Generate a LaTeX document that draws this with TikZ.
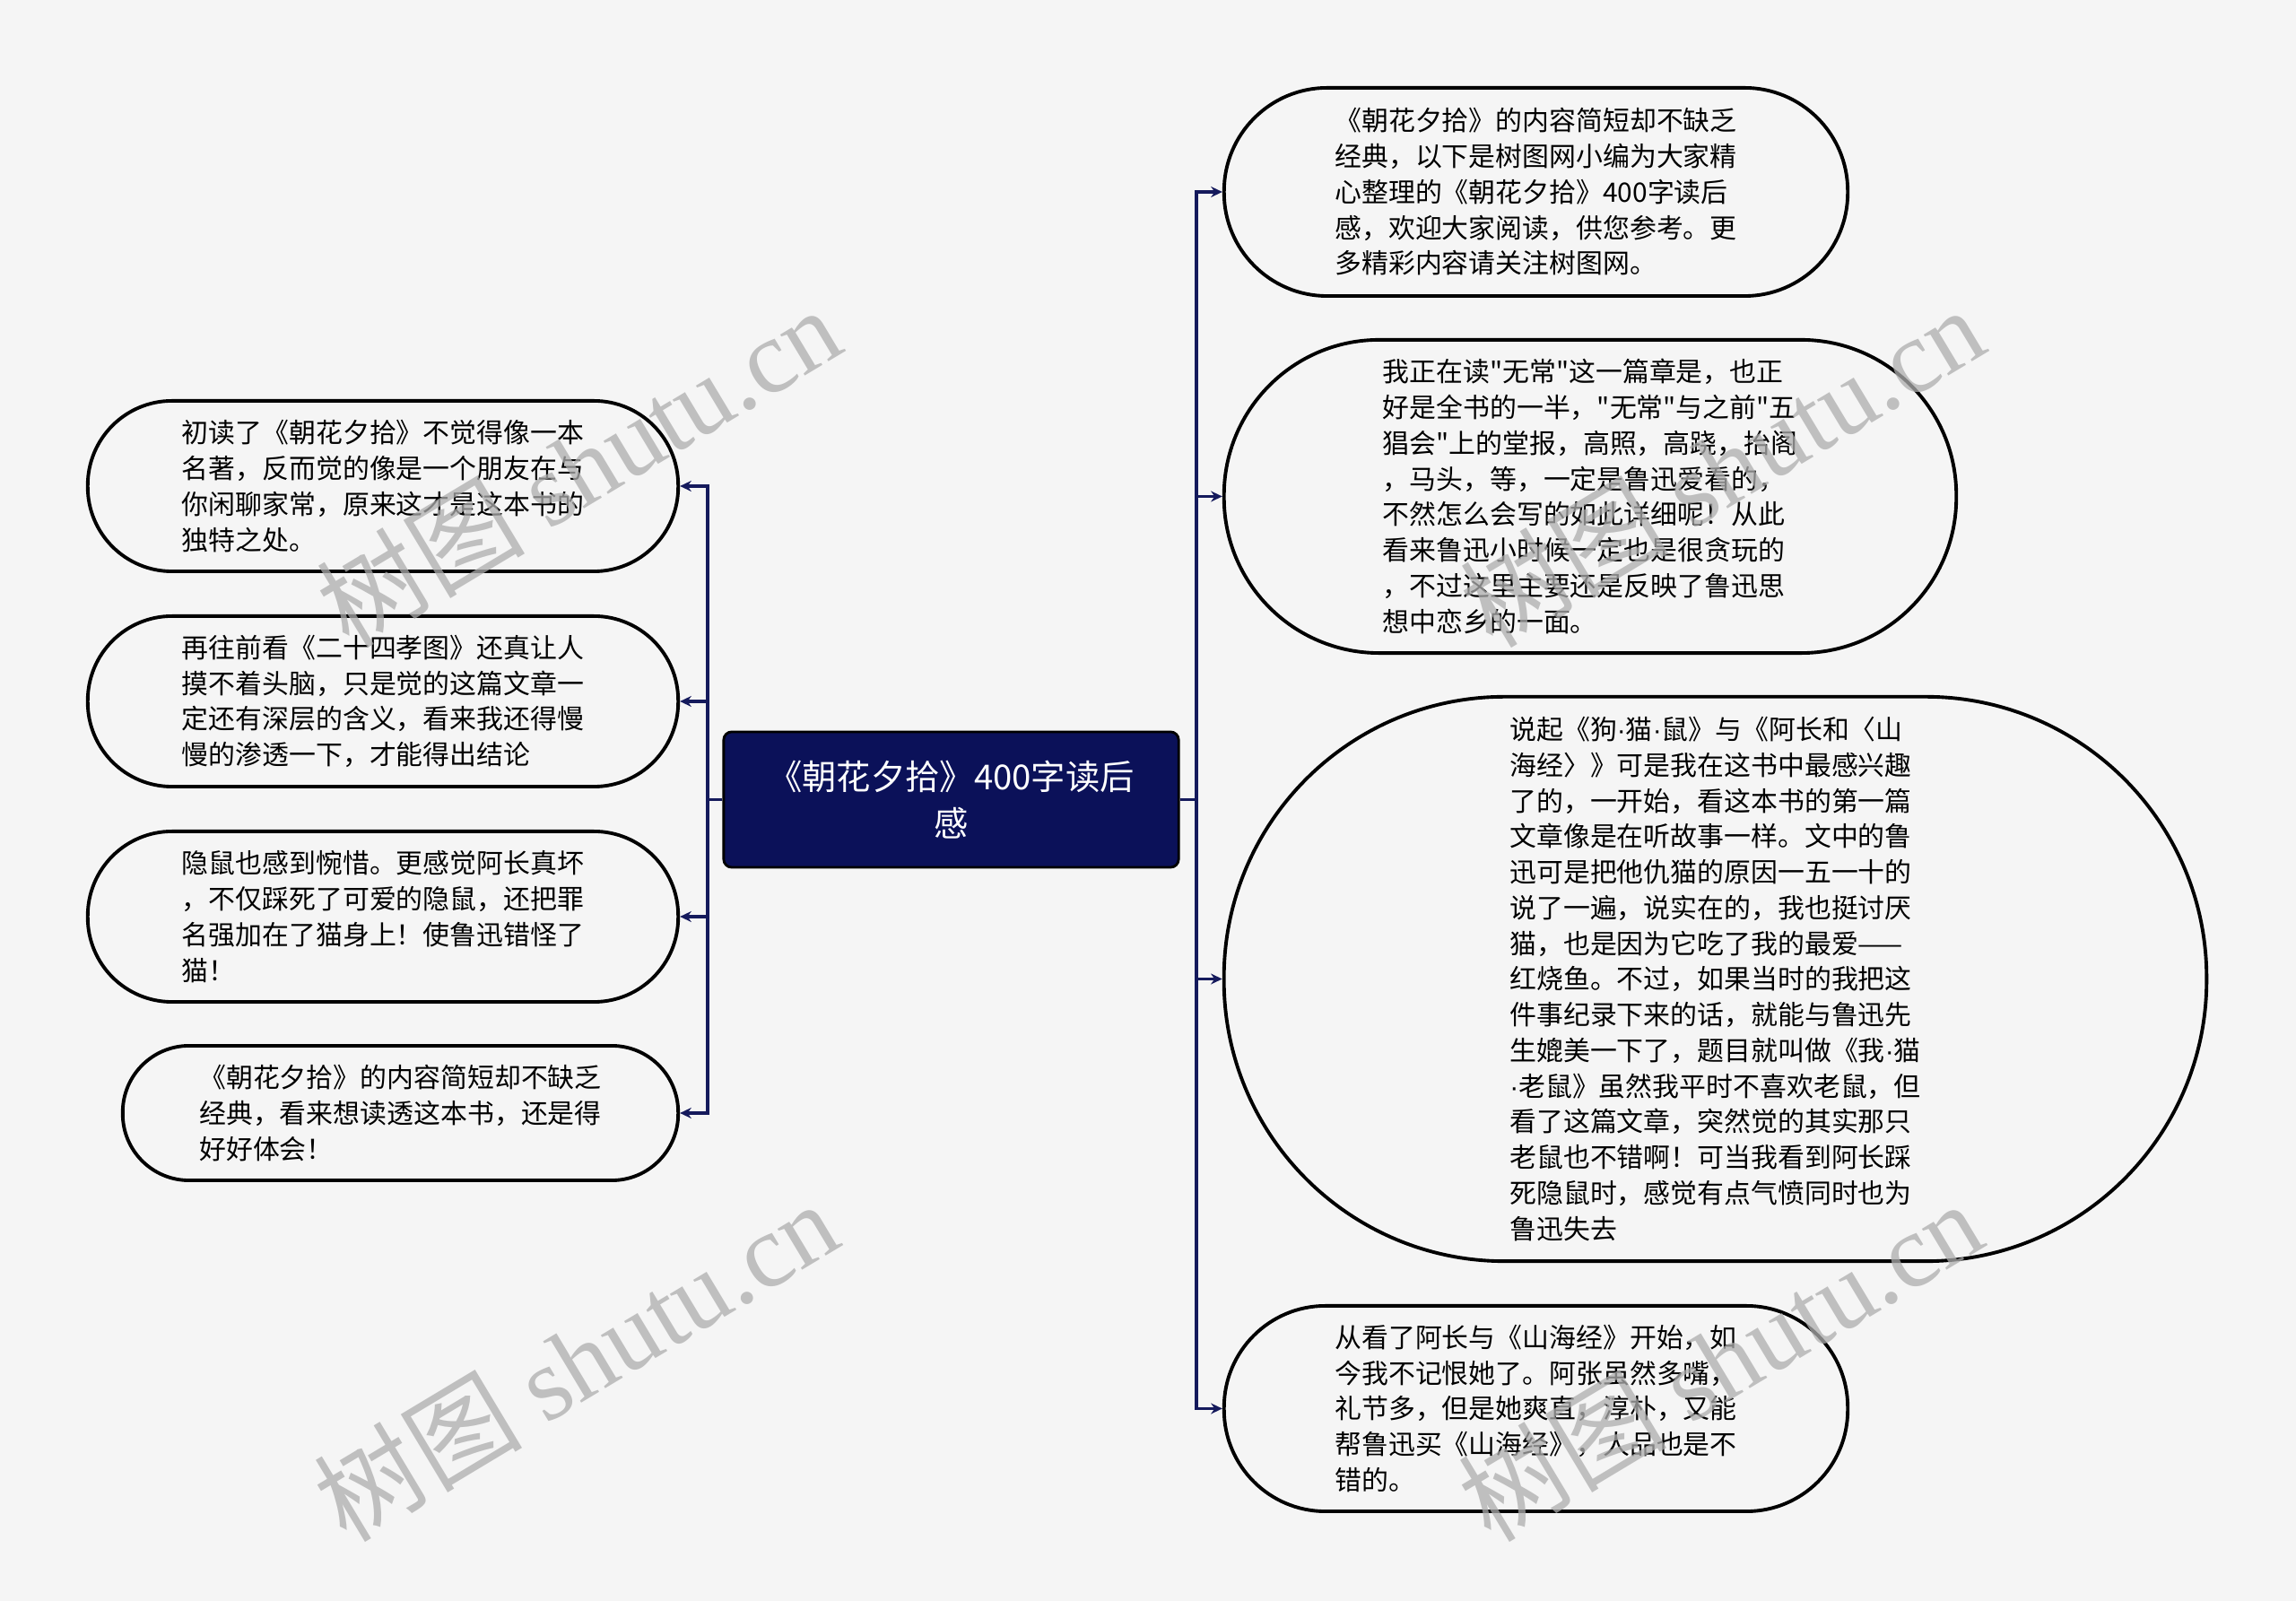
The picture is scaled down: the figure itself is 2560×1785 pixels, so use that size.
\documentclass[tikz,border=0pt]{standalone}
\usepackage{fontspec}
\newfontfamily\cjk{Noto Sans CJK SC}
\newfontfamily\wmserif{Liberation Serif}
\newfontfamily\latinsans{Liberation Sans}
\newcommand{\mdot}{{\latinsans ·}}
\usetikzlibrary{arrows.meta}
\definecolor{bgc}{HTML}{F5F5F5}
\definecolor{navy}{HTML}{0B1159}
\definecolor{linec}{HTML}{151A5C}
\tikzset{
  pill/.style={draw=black, line width=1.1pt, fill=bgc, rounded corners=#1,
    inner sep=0pt, align=left, text=black,
    font=\cjk\fontsize{8.5}{11.3}\selectfont},
  centerbox/.style={draw=black, line width=0.8pt, fill=navy, rounded corners=0.09cm,
    inner sep=0pt, align=center, text=white,
    font=\cjk\fontsize{10.9}{14.8}\selectfont},
  conn/.style={draw=linec, line width=0.9pt, -{Stealth[length=3.6pt,width=3.4pt]}},
  wmark/.style={text=black!32, opacity=0.75, rotate=31, inner sep=0pt}
}
\begin{document}
\begin{tikzpicture}[x=0.01cm,y=0.01cm]
\useasboundingbox (0,0) rectangle (2560,1785);
\fill[bgc] (0,0) rectangle (2560,1785);

% centre
\node[centerbox, minimum width=5.07cm, minimum height=1.51cm] (c) at (1060.5,893.5)
  {《朝花夕拾》400字读后\\感};

% left nodes
\node[pill=0.94cm, minimum width=6.58cm, minimum height=1.90cm] (l1) at (427,1243)
  {初读了《朝花夕拾》不觉得像一本\\名著，反而觉的像是一个朋友在与\\你闲聊家常，原来这才是这本书的\\独特之处。};
\node[pill=0.94cm, minimum width=6.58cm, minimum height=1.90cm] (l2) at (427,1003)
  {再往前看《二十四孝图》还真让人\\摸不着头脑，只是觉的这篇文章一\\定还有深层的含义，看来我还得慢\\慢的渗透一下，才能得出结论};
\node[pill=0.94cm, minimum width=6.58cm, minimum height=1.90cm] (l3) at (427,763)
  {隐鼠也感到惋惜。更感觉阿长真坏\\，不仅踩死了可爱的隐鼠，还把罪\\名强加在了猫身上！使鲁迅错怪了\\猫！};
\node[pill=0.74cm, minimum width=6.19cm, minimum height=1.50cm] (l4) at (446.5,544)
  {《朝花夕拾》的内容简短却不缺乏\\经典，看来想读透这本书，还是得\\好好体会！};

% right nodes
\node[pill=1.15cm, minimum width=6.95cm, minimum height=2.32cm] (r1) at (1712.5,1571)
  {《朝花夕拾》的内容简短却不缺乏\\经典，以下是树图网小编为大家精\\心整理的《朝花夕拾》400字读后\\感，欢迎大家阅读，供您参考。更\\多精彩内容请关注树图网。};
\node[pill=1.73cm, minimum width=8.16cm, minimum height=3.49cm] (r2) at (1773,1231.5)
  {我正在读"无常"这一篇章是，也正\\好是全书的一半，"无常"与之前"五\\猖会"上的堂报，高照，高跷，抬阁\\，马头，等，一定是鲁迅爱看的，\\不然怎么会写的如此详细呢！从此\\看来鲁迅小时候一定也是很贪玩的\\，不过这里主要还是反映了鲁迅思\\想中恋乡的一面。};
\node[pill=3.13cm, minimum width=10.95cm, minimum height=6.29cm] (r3) at (1912.5,693.5)
  {说起《狗\mdot 猫\mdot 鼠》与《阿长和〈山\\海经〉》可是我在这书中最感兴趣\\了的，一开始，看这本书的第一篇\\文章像是在听故事一样。文中的鲁\\迅可是把他仇猫的原因一五一十的\\说了一遍，说实在的，我也挺讨厌\\猫，也是因为它吃了我的最爱——\\红烧鱼。不过，如果当时的我把这\\件事纪录下来的话，就能与鲁迅先\\生媲美一下了，题目就叫做《我\mdot 猫\\\mdot 老鼠》虽然我平时不喜欢老鼠，但\\看了这篇文章，突然觉的其实那只\\老鼠也不错啊！可当我看到阿长踩\\死隐鼠时，感觉有点气愤同时也为\\鲁迅失去};
\node[pill=1.13cm, minimum width=6.95cm, minimum height=2.29cm] (r4) at (1712.5,214.5)
  {从看了阿长与《山海经》开始，如\\今我不记恨她了。阿张虽然多嘴，\\礼节多，但是她爽直，淳朴，又能\\帮鲁迅买《山海经》，人品也是不\\错的。};

% spines
\coordinate (sl) at (789,893.5);
\coordinate (sr) at (1334,893.5);

\foreach \n in {l1,l2,l3,l4}
  \draw[conn] (c.west) -- (sl) |- (\n.east);
\foreach \n in {r1,r2,r3,r4}
  \draw[conn] (c.east) -- (sr) |- (\n.west);

% watermarks
\node[wmark] (w1) at (645,1265) {\cjk\fontsize{33}{33}\selectfont 树图 \wmserif shutu.cn};
\node[wmark] (w2) at (642,268) {\cjk\fontsize{33}{33}\selectfont 树图 \wmserif shutu.cn};
\node[wmark] (w3) at (1920,1265) {\cjk\fontsize{33}{33}\selectfont 树图 \wmserif shutu.cn};
\node[wmark] (w4) at (1918,268) {\cjk\fontsize{33}{33}\selectfont 树图 \wmserif shutu.cn};
\end{tikzpicture}
\end{document}
